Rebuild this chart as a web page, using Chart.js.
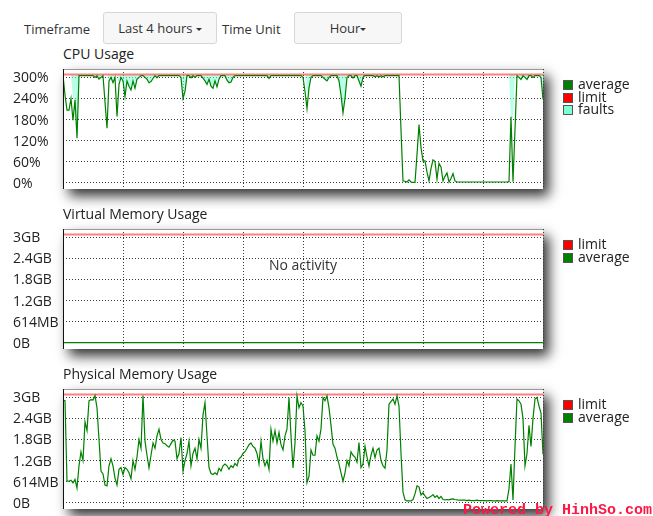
<!DOCTYPE html>
<html>
<head>
<meta charset="utf-8">
<script src="https://cdn.jsdelivr.net/npm/chart.js@4.4.1/dist/chart.umd.min.js"></script>
<style>
  html, body { margin: 0; padding: 0; background: #fff; width: 653px; height: 516px; overflow: hidden; }
  body { position: relative; font-family: 'Open Sans', sans-serif; color: #222; }
  .lbl { position: absolute; top: 19px; font-size: 13px; line-height: 20px; color: #333; }
  .btn { position: absolute; top: 12px; height: 32px; box-sizing: border-box; border: 1px solid #d6d6d6; border-radius: 3px;
         background: #f7f7f7; font-size: 13px; line-height: 30px; text-align: center; color: #333; }
  .caret { display: inline-block; width: 0; height: 0; vertical-align: middle; margin-top: -1px;
           border-top: 3px solid #333; border-left: 3px solid transparent; border-right: 3px solid transparent; }
  .title { position: absolute; left: 63px; font-size: 14px; line-height: 20px; color: #222; }
  .wrap { position: absolute; left: 0; width: 653px; height: 150px; }
  .legend { position: absolute; left: 563px; font-size: 14px; line-height: 13px; color: #222; z-index: 2; }
  .legend div { position: relative; height: 12.7px; padding-left: 15px; white-space: nowrap; }
  .legend i { position: absolute; left: 0; top: 3px; width: 10px; height: 10px; box-sizing: border-box; border: 1px solid #555; }
  .noact { position: absolute; left: 63px; width: 480px; top: 255px; text-align: center; font-size: 14px; line-height: 20px; color: #333; z-index: 2; }
  .mark { position: absolute; left: 463px; top: 503px; font-family: 'Liberation Mono', monospace; font-weight: bold;
          font-size: 15px; line-height: 15px; color: #ff1744; z-index: 3; white-space: nowrap; }
</style>
</head>
<body>
<span class="lbl" style="left:24px">Timeframe</span>
<div class="btn" style="left:103px;width:114px">Last 4 hours <span class="caret"></span></div>
<span class="lbl" style="left:222px">Time Unit</span>
<div class="btn" style="left:294px;width:108px">Hour<span class="caret"></span></div>

<div class="title" style="top:44px">CPU Usage</div>
<div class="wrap" style="top:59px"><canvas id="cpuChart" width="653" height="150"></canvas></div>
<div class="legend" style="top:77px">
  <div><i style="background:#008000"></i>average</div>
  <div><i style="background:#ff0000"></i>limit</div>
  <div><i style="background:#7fffd4"></i>faults</div>
</div>

<div class="title" style="top:204px">Virtual Memory Usage</div>
<div class="wrap" style="top:219px"><canvas id="virtChart" width="653" height="150"></canvas></div>
<div class="legend" style="top:237px">
  <div><i style="background:#ff0000"></i>limit</div>
  <div><i style="background:#008000"></i>average</div>
</div>
<div class="noact">No activity</div>

<div class="title" style="top:364px">Physical Memory Usage</div>
<div class="wrap" style="top:379px"><canvas id="physChart" width="653" height="150"></canvas></div>
<div class="legend" style="top:397px">
  <div><i style="background:#ff0000"></i>limit</div>
  <div><i style="background:#008000"></i>average</div>
</div>

<div class="mark">Powered by HinhSo.com</div>

<script>
// one sample per minute over the last 4 hours
const minutes = Array.from({ length: 241 }, (_, i) => i);
const limitMinutes = [0, 240];

// CPU usage (%)
const cpuAverage = [
  305, 250, 207, 207, 240, 178, 236, 127, 305, 305,
  305, 305, 305, 305, 305, 305, 300, 305, 295, 300,
  305, 230, 155, 290, 300, 285, 300, 189, 280, 300,
  290, 245, 290, 275, 264, 290, 269, 295, 300, 305,
  305, 300, 295, 285, 288, 297, 305, 299, 305, 305,
  305, 305, 305, 305, 305, 305, 305, 305, 305, 300,
  240, 260, 305, 305, 299, 305, 300, 305, 305, 305,
  298, 290, 280, 295, 275, 269, 290, 273, 295, 305,
  305, 305, 292, 285, 287, 300, 305, 305, 305, 305,
  305, 305, 305, 305, 305, 305, 305, 305, 305, 305,
  305, 305, 305, 297, 305, 305, 305, 305, 305, 305,
  305, 305, 305, 305, 305, 305, 305, 305, 305, 305,
  300, 260, 211, 270, 300, 305, 305, 305, 305, 305,
  300, 295, 290, 300, 305, 305, 305, 305, 290, 250,
  199, 240, 300, 305, 305, 298, 305, 305, 290, 275,
  300, 305, 305, 305, 305, 305, 302, 305, 301, 305,
  302, 305, 305, 305, 305, 305, 305, 305, 305, 150,
  5, 4, 2, 8, 2, 1, 1, 80, 166, 100,
  62, 62, 30, 5, 40, 65, 60, 10, 55, 45,
  5, 18, 28, 2, 12, 26, 5, 2, 2, 2,
  2, 2, 2, 2, 2, 2, 2, 2, 2, 2,
  2, 2, 2, 2, 2, 2, 2, 2, 2, 2,
  2, 2, 2, 3, 188, 3, 150, 305, 300, 294,
  305, 300, 294, 305, 305, 300, 305, 305, 305, 300,
  238
];
const cpuFaults = [
  307, 307, 307, 307, 307, 240, 236, 127, 307, 307,
  307, 307, 307, 307, 307, 307, 300, 307, 295, 300,
  307, 307, 307, 290, 307, 285, 307, 307, 280, 307,
  290, 245, 290, 275, 264, 290, 269, 295, 300, 307,
  307, 300, 295, 285, 288, 297, 307, 299, 307, 307,
  307, 307, 307, 307, 307, 307, 307, 307, 307, 300,
  240, 260, 307, 307, 299, 307, 300, 307, 307, 307,
  298, 290, 280, 295, 275, 269, 290, 273, 295, 307,
  307, 307, 292, 285, 287, 300, 307, 307, 307, 307,
  307, 307, 307, 307, 307, 307, 307, 307, 307, 307,
  307, 307, 307, 297, 307, 307, 307, 307, 307, 307,
  307, 307, 307, 307, 307, 307, 307, 307, 307, 307,
  307, 307, 250, 270, 300, 307, 307, 307, 307, 307,
  300, 295, 290, 300, 307, 307, 307, 307, 290, 250,
  199, 240, 300, 307, 307, 298, 307, 307, 290, 275,
  300, 307, 307, 307, 307, 307, 302, 307, 301, 307,
  302, 307, 307, 307, 307, 307, 307, 307, 307, 307,
  307, 307, 307, 307, 307, 307, 307, 307, 307, 307,
  307, 307, 307, 307, 307, 307, 307, 307, 307, 307,
  307, 307, 307, 307, 307, 307, 307, 307, 307, 307,
  307, 307, 307, 307, 307, 307, 307, 307, 307, 307,
  307, 307, 307, 307, 307, 307, 307, 307, 307, 307,
  307, 307, 307, 307, 185, 185, 307, 307, 300, 294,
  307, 300, 294, 307, 307, 300, 307, 307, 307, 300,
  238
];
const cpuLimit = [308.5, 308.5];
const cpuTicks = [0, 60, 120, 180, 240, 300];
const cpuTickLabels = ['0%', '60%', '120%', '180%', '240%', '300%'];

// memory (GB)
const virtAverage = [0, 0];
const virtLimit = [3.08, 3.08];
const physLimit = [3.08, 3.08];
const physAverage = [
  2.92, 2.90, 0.62, 0.61, 0.64, 0.56, 0.66, 0.42, 1.05, 1.45,
  1.20, 2.30, 2.05, 2.90, 2.93, 2.92, 3.05, 2.70, 1.80, 0.90,
  0.82, 0.50, 0.48, 1.05, 1.25, 1.05, 0.70, 0.50, 0.95, 1.00,
  0.80, 1.00, 0.95, 0.85, 0.68, 1.20, 0.95, 1.30, 1.80, 1.55,
  3.05, 1.75, 1.35, 0.99, 1.35, 1.70, 1.55, 1.90, 2.09, 1.80,
  1.70, 1.68, 1.62, 1.58, 1.68, 1.78, 1.75, 1.25, 1.40, 1.85,
  0.90, 1.20, 1.40, 1.75, 1.05, 1.40, 1.55, 1.25, 1.80, 1.55,
  2.50, 2.85, 1.90, 1.00, 0.83, 0.80, 0.85, 0.80, 0.98, 0.90,
  1.05, 1.10, 1.05, 0.95, 1.05, 1.00, 1.12, 1.05, 1.25, 1.30,
  1.40, 1.45, 1.55, 1.65, 1.70, 1.60, 1.55, 1.40, 1.10, 1.75,
  1.25, 1.05, 1.20, 0.95, 2.09, 1.75, 2.05, 1.70, 2.00, 1.65,
  1.50, 1.90, 2.10, 2.99, 1.90, 0.99, 1.70, 3.04, 2.70, 2.85,
  2.75, 2.05, 0.57, 0.75, 1.50, 1.35, 1.35, 1.90, 1.75, 2.10,
  2.99, 2.90, 3.04, 2.70, 2.20, 1.66, 1.55, 1.30, 1.10, 0.85,
  0.61, 0.85, 1.20, 1.05, 1.45, 1.35, 1.30, 1.15, 1.71, 1.00,
  1.10, 1.61, 1.30, 1.04, 1.35, 1.55, 1.28, 1.50, 1.55, 1.20,
  1.05, 0.98, 1.50, 2.80, 2.88, 2.95, 2.80, 3.04, 2.75, 1.40,
  0.30, 0.08, 0.05, 0.05, 0.05, 0.09, 0.25, 0.48, 0.45, 0.22,
  0.28, 0.19, 0.12, 0.15, 0.18, 0.23, 0.15, 0.20, 0.12, 0.18,
  0.09, 0.08, 0.09, 0.08, 0.10, 0.11, 0.09, 0.08, 0.07, 0.07,
  0.07, 0.07, 0.06, 0.07, 0.06, 0.06, 0.06, 0.07, 0.06, 0.06,
  0.06, 0.06, 0.05, 0.06, 0.06, 0.05, 0.05, 0.06, 0.05, 0.05,
  0.05, 0.05, 0.05, 0.40, 1.10, 0.08, 1.60, 2.95, 2.90, 2.80,
  2.40, 1.05, 1.40, 2.20, 1.60, 2.40, 2.95, 3.00, 2.75, 2.55,
  1.37
];
const memTicks = [0, 0.6, 1.2, 1.8, 2.4, 3.0];
const memTickLabels = ['0B', '614MB', '1.2GB', '1.8GB', '2.4GB', '3GB'];

Chart.defaults.font.family = "'Open Sans', sans-serif";

// white plot box with a drop shadow, plus top and left edges
const framePlugin = {
  id: 'frame',
  beforeDraw(chart) {
    const { ctx, chartArea: a } = chart;
    ctx.save();
    ctx.shadowColor = 'rgba(0,0,0,0.8)';
    ctx.shadowBlur = 12;
    ctx.shadowOffsetX = 6;
    ctx.shadowOffsetY = 7;
    ctx.fillStyle = '#fff';
    ctx.fillRect(a.left, a.top, a.right - a.left, a.bottom - a.top);
    ctx.restore();
  },
  afterDraw(chart) {
    const { ctx, chartArea: a } = chart;
    ctx.save();
    ctx.lineWidth = 1;
    ctx.strokeStyle = '#999';
    ctx.beginPath();
    ctx.moveTo(a.left, a.top + 0.5);
    ctx.lineTo(a.right, a.top + 0.5);
    ctx.stroke();
    ctx.strokeStyle = '#111';
    ctx.beginPath();
    ctx.moveTo(a.left + 0.5, a.top);
    ctx.lineTo(a.left + 0.5, a.bottom);
    ctx.stroke();
    ctx.restore();
  }
};

const toPoints = (xs, ys) => ys.map((v, i) => ({ x: xs[i], y: v }));

function lineSet(points, color, width) {
  return { data: points, borderColor: color, borderWidth: width, pointRadius: 0, tension: 0, fill: false };
}

function makeChart(id, datasets, yMin, yMax, ticks, tickLabels) {
  return new Chart(document.getElementById(id), {
    type: 'line',
    data: { datasets },
    plugins: [framePlugin],
    options: {
      responsive: false,
      animation: false,
      events: [],
      layout: { padding: { left: 13, right: 110, top: 10, bottom: 20 } },
      plugins: { legend: { display: false }, tooltip: { enabled: false } },
      scales: {
        x: {
          type: 'linear', min: 0, max: 240,
          ticks: { display: false, stepSize: 30 },
          grid: { color: '#3a3a3a', drawTicks: false },
          border: { display: false, dash: [1, 2] },
          afterFit: s => { s.height = 0; }
        },
        y: {
          min: yMin, max: yMax,
          afterBuildTicks: s => { s.ticks = ticks.map(v => ({ value: v })); },
          ticks: {
            autoSkip: false, crossAlign: 'far', padding: 0, color: '#222',
            labelOffset: 1,
            font: { size: 14 },
            callback: (v, i) => tickLabels[i]
          },
          grid: { color: '#3a3a3a', drawTicks: false },
          border: { display: false, dash: [1, 2] },
          afterFit: s => { s.width = 50; }
        }
      }
    }
  });
}

makeChart('cpuChart', [
  lineSet(toPoints(minutes, cpuAverage), '#008000', 1.2),
  lineSet(toPoints(limitMinutes, cpuLimit), 'rgba(255,0,0,0.5)', 2),
  {
    data: toPoints(minutes, cpuFaults), borderColor: 'transparent', borderWidth: 0, pointRadius: 0,
    backgroundColor: 'rgba(127,255,212,0.55)', fill: { value: 307 }
  }
], -18, 324, cpuTicks, cpuTickLabels);

makeChart('virtChart', [
  lineSet(toPoints(limitMinutes, virtLimit), 'rgba(255,0,0,0.5)', 2),
  lineSet(toPoints(limitMinutes, virtAverage), '#008000', 1.2)
], -0.18, 3.236, memTicks, memTickLabels);

makeChart('physChart', [
  lineSet(toPoints(minutes, physAverage), '#008000', 1.2),
  lineSet(toPoints(limitMinutes, physLimit), 'rgba(255,0,0,0.5)', 2)
], -0.18, 3.236, memTicks, memTickLabels);
</script>
</body>
</html>
